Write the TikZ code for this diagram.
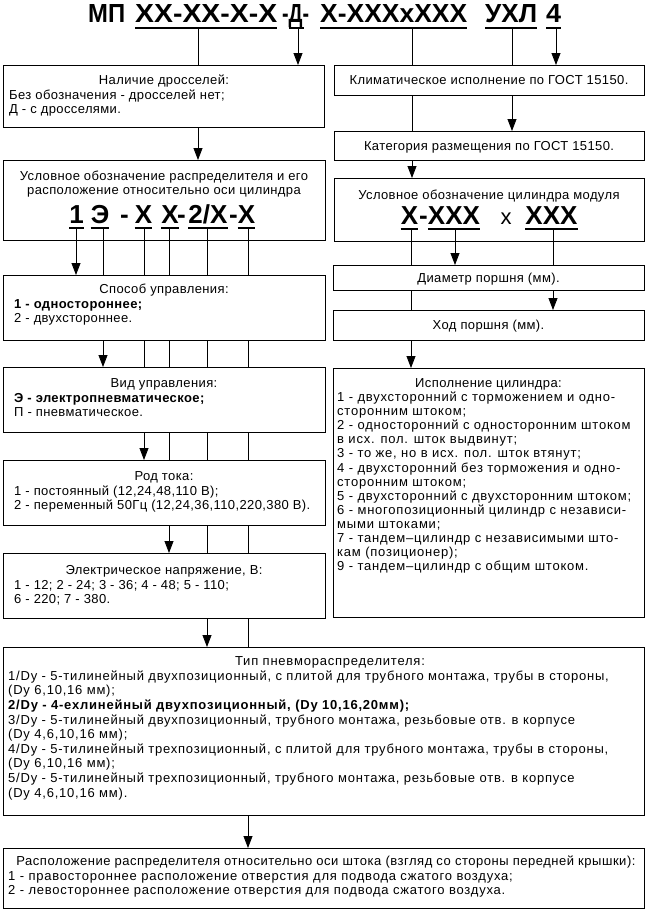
\documentclass[tikz,border=0pt]{standalone}
\usepackage{graphicx}
\usepackage{fontspec}
\setmainfont{Liberation Sans}[LetterSpace=3]
\newfontfamily\codefont{Liberation Sans}
\usetikzlibrary{arrows.meta,backgrounds}
\pgfdeclarelayer{lowest}
\pgfdeclarelayer{mid}
\pgfsetlayers{lowest,mid,main}
\newcommand\mytxt{\fontsize{13}{14.5}\selectfont}
\newcommand\mywide{\addfontfeature{LetterSpace=6}}
\newcommand\mymid{\addfontfeature{LetterSpace=4}}
\newcommand\mycode{\codefont\bfseries\fontsize{26}{26}\selectfont}
\begin{document}
\begin{tikzpicture}[x=1pt,y=-1pt,
  box/.style={draw,line width=0.8pt,fill=white,anchor=north west,inner sep=0pt,outer sep=0pt},
  ttl/.style={anchor=base,inner sep=0pt,font=\mytxt},
  lst/.style={anchor=north west,inner sep=0pt,align=left,font=\mytxt},
  code/.style={anchor=base,inner sep=0pt,font=\mycode},
  hd/.style={anchor=base west,inner sep=0pt,font=\mycode},
  ul/.style={line width=2.2pt},
  arr/.style={line width=0.8pt,-{Triangle[width=9pt,length=12pt]}},
  ln/.style={line width=0.8pt}]
\useasboundingbox (0,0) rectangle (649,913);
\begin{pgfonlayer}{lowest}
\fill[white] (0,0) rectangle (649,913);
\end{pgfonlayer}

% ---------- header ----------
\node[hd] (t1) at (88,22) {\resizebox{37pt}{18pt}{МП}};
\node[hd] (t2) at (135,22) {\resizebox{142pt}{18pt}{XX-XX-X-X}};
\node[hd] (t3) at (282,22) {\resizebox{27pt}{18pt}{-Д-}};
\node[hd] (t4) at (320,22) {\resizebox{147pt}{18pt}{X-XXXxXXX}};
\node[hd] (t5) at (485,22) {\resizebox{52pt}{18pt}{УХЛ}};
\node[hd] (t6) at (546,22) {\resizebox{15pt}{18pt}{4}};
\draw[ul] ([yshift=-6pt]t2.base west) -- ([yshift=-6pt]t2.base east);
\draw[ul] ([shift={(7pt,-6pt)}]t3.base west) -- ([shift={(-5pt,-6pt)}]t3.base east);
\draw[ul] ([yshift=-6pt]t4.base west) -- ([yshift=-6pt]t4.base east);
\draw[ul] ([yshift=-6pt]t5.base west) -- ([yshift=-6pt]t5.base east);
\draw[ul] ([yshift=-6pt]t6.base west) -- ([yshift=-6pt]t6.base east);
\coordinate (hA) at (198,29);
\coordinate (hB) at (298,29);
\coordinate (hC) at (412,29);
\coordinate (hD) at (512,29);
\coordinate (hE) at (556,29);

% ---------- boxes holding codes (lowest layer) ----------
\begin{pgfonlayer}{lowest}
\node[box,minimum width=322pt,minimum height=80pt] (b2) at (3,160) {};
\node[box,minimum width=310pt,minimum height=63pt] (by) at (334,178) {};
\end{pgfonlayer}

% ---------- other boxes ----------
\node[box,minimum width=321pt,minimum height=62pt] (b1) at (3,65) {};
\node[box,minimum width=310pt,minimum height=30pt] (bk) at (334,65) {};
\node[box,minimum width=310pt,minimum height=29pt] (bc) at (334,131) {};
\node[box,minimum width=311pt,minimum height=25pt] (bd) at (333,265) {};
\node[box,minimum width=311pt,minimum height=30pt] (bh) at (333,310) {};
\node[box,minimum width=322pt,minimum height=65pt] (bs) at (3,275) {};
\node[box,minimum width=311pt,minimum height=249pt] (bi) at (333,368) {};
\node[box,minimum width=322pt,minimum height=65pt] (bv) at (3,367) {};
\node[box,minimum width=322pt,minimum height=65pt] (br) at (3,460) {};
\node[box,minimum width=322pt,minimum height=65pt] (be) at (3,553) {};
\node[box,minimum width=641pt,minimum height=168pt] (bt) at (3,647) {};
\node[box,minimum width=641pt,minimum height=60pt] (bl) at (3,848) {};

% ---------- texts ----------
\node[ttl] (b1-t) at (164,84.5) {Наличие дросселей:};
\node[lst] (b1-l) at (9,88.85) {\strut Без обозначения - дросселей нет;\\Д - с дросселями.};
\node[ttl] (bk-t) at (489,84.5) {Климатическое исполнение по ГОСТ 15150.};
\node[ttl] (bc-t) at (489,150.5) {Категория размещения по ГОСТ 15150.};
\node[anchor=north,inner sep=0pt,align=center,font=\mytxt] (b2-t) at (164,169.85)
  {\strut Условное обозначение распределителя и его\\расположение относительно оси цилиндра};
\node[ttl] (by-t) at (489,199.5) {Условное обозначение цилиндра модуля};
\node[ttl] (bd-t) at (488.5,282.5) {Диаметр поршня (мм).};
\node[ttl] (bh-t) at (488.5,329.5) {Ход поршня (мм).};
\node[ttl] (bs-t) at (164,293.5) {Способ управления:};
\node[lst] (bs-l) at (14,297.85) {\strut\textbf{1 - одностороннее;}\\2 - двухстороннее.};
\node[ttl] (bv-t) at (164,387.5) {Вид управления:};
\node[lst] (bv-l) at (14,391.85) {\strut\textbf{Э - электропневматическое;}\\П - пневматическое.};
\node[ttl] (br-t) at (164,480.5) {Род тока:};
\node[lst] (br-l) at (14,484.85) {\strut 1 - постоянный (12,24,48,110 В);\\2 - переменный 50Гц (12,24,36,110,220,380 В).};
\node[ttl] (be-t) at (164,574.5) {Электрическое напряжение, В:};
\node[lst] (be-l) at (14,578.85) {\strut 1 - 12; 2 - 24; 3 - 36; 4 - 48; 5 - 110;\\6 - 220; 7 - 380.};
\node[ttl] (bi-t) at (488.5,387.5) {Исполнение цилиндра:};
\node[lst,font=\fontsize{13}{14.1}\selectfont\mywide] (bi-l) at (337,391.5) {\strut 1 - двухсторонний с торможением и одно-\\
сторонним штоком;\\
2 - односторонний с односторонним штоком\\
в исх. пол. шток выдвинут;\\
3 - то же, но в исх. пол. шток втянут;\\
4 - двухсторонний без торможения и одно-\\
сторонним штоком;\\
5 - двухсторонний с двухсторонним штоком;\\
6 - многопозиционный цилиндр с независи-\\
мыми штоками;\\
7 - тандем–цилиндр с независимыми што-\\
кам (позиционер);\\
9 - тандем–цилиндр с общим штоком.};
\node[ttl,font=\mytxt\mywide] (bt-t) at (330,665.5) {Тип пневмораспределителя:};
\node[lst,font=\fontsize{13}{14.6}\selectfont\mywide] (bt-l) at (8,669.95) {\strut 1/Dy - 5-тилинейный двухпозиционный, с плитой для трубного монтажа, трубы в стороны,\\
(Dy 6,10,16 мм);\\
\textbf{2/Dy - 4-ехлинейный двухпозиционный, (Dy 10,16,20мм);}\\
3/Dy - 5-тилинейный двухпозиционный, трубного монтажа, резьбовые отв. в корпусе\\
(Dy 4,6,10,16 мм);\\
4/Dy - 5-тилинейный трехпозиционный, с плитой для трубного монтажа, трубы в стороны,\\
(Dy 6,10,16 мм);\\
5/Dy - 5-тилинейный трехпозиционный, трубного монтажа, резьбовые отв. в корпусе\\
(Dy 4,6,10,16 мм).};
\node[ttl,font=\mytxt\mymid] (bl-t) at (326,865.5) {Расположение распределителя относительно оси штока (взгляд со стороны передней крышки):};
\node[lst,font=\mytxt\mywide] (bl-l) at (8,869.85) {\strut 1 - правостороннее расположение отверстия для подвода сжатого воздуха;\\
2 - левостороннее расположение отверстия для подвода сжатого воздуха.};

% ---------- distributor code ----------
\node[code] (k1) at (76.5,223) {1};
\node[code] (k2) at (100,223) {Э};
\node[code] (k3) at (124.5,223) {-};
\node[code] (k4) at (143.5,223) {X};
\node[code] (k5) at (170,223) {X};
\node[code] (k6) at (181.5,223) {-};
\node[code] (k7) at (208,223) {2/X};
\node[code] (k8) at (233.5,223) {-};
\node[code] (k9) at (246.5,223) {X};
\foreach \k in {k1,k2,k4,k5,k7,k9}
  \draw[ul] ([yshift=-5pt]\k.base west) -- ([yshift=-5pt]\k.base east);
\coordinate (c1) at (76,229);
\coordinate (c2) at (103,229);
\coordinate (c3) at (144,229);
\coordinate (c4) at (169,229);
\coordinate (c5) at (207,229);
\coordinate (c6) at (248,229);

% ---------- cylinder code ----------
\node[code] (m1) at (409.5,224) {X};
\node[code] (m2) at (423.5,224) {-};
\node[code] (m3) at (454,224) {XXX};
\node[code,font=\codefont\fontsize{22}{22}\selectfont] (m4) at (506,224) {x};
\node[code] (m5) at (551.5,224) {XXX};
\foreach \m in {m1,m3,m5}
  \draw[ul] ([yshift=-5pt]\m.base west) -- ([yshift=-5pt]\m.base east);
\coordinate (y1) at (411,230);
\coordinate (y2) at (455,230);
\coordinate (y3) at (553,230);

% ---------- connectors ----------
\begin{pgfonlayer}{mid}
\draw[arr] (hA) -- (hA |- b2.north);
\draw[arr] (hB) -- (hB |- b1.north);
\draw[arr] (hC) -- (hC |- by.north);
\draw[arr] (hD) -- (hD |- bc.north);
\draw[arr] (hE) -- (hE |- bk.north);
\draw[arr] (c1) -- (c1 |- bs.north);
\draw[arr] (c2) -- (c2 |- bv.north);
\draw[arr] (c3) -- (c3 |- br.north);
\draw[arr] (c4) -- (c4 |- be.north);
\draw[arr] (c5) -- (c5 |- bt.north);
\draw[arr] (c6) -- (c6 |- bl.north);
\draw[arr] (y1) -- (y1 |- bi.north);
\draw[arr] (y2) -- (y2 |- bd.north);
\draw[arr] (y3) -- (y3 |- bh.north);
\end{pgfonlayer}
\end{tikzpicture}
\end{document}
